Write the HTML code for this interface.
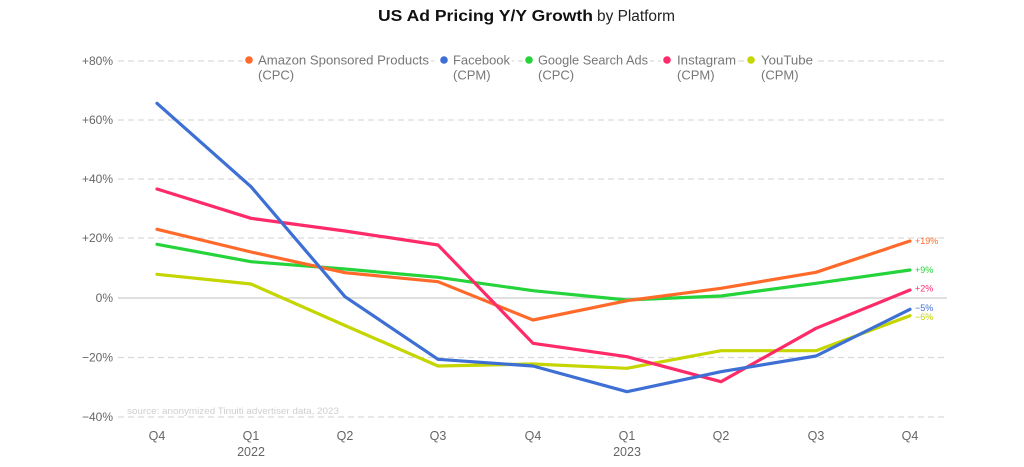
<!DOCTYPE html>
<html><head><meta charset="utf-8"><style>
html,body{margin:0;padding:0;background:#fff;}
svg{display:block;}
text{font-family:"Liberation Sans",sans-serif;}
</style></head><body>
<svg width="1024" height="467" viewBox="0 0 1024 467" xmlns="http://www.w3.org/2000/svg">
<rect width="1024" height="467" fill="#fff"/>
<!-- title -->
<text x="378" y="21" font-size="15.5" fill="#111"><tspan font-weight="bold" textLength="215" lengthAdjust="spacingAndGlyphs">US Ad Pricing Y/Y Growth</tspan><tspan dx="4" fill="#222" textLength="78" lengthAdjust="spacingAndGlyphs">by Platform</tspan></text>
<!-- gridlines -->
<g stroke="#d9d9d9" stroke-width="1.2" stroke-dasharray="6,4" fill="none">
<line x1="118" y1="61" x2="947" y2="61"/>
<line x1="118" y1="120" x2="947" y2="120"/>
<line x1="118" y1="179" x2="947" y2="179"/>
<line x1="118" y1="238" x2="947" y2="238"/>
<line x1="118" y1="357.5" x2="947" y2="357.5"/>
<line x1="118" y1="417" x2="947" y2="417"/>
</g>
<line x1="118" y1="298" x2="947" y2="298" stroke="#d6d6d6" stroke-width="1.4"/>
<!-- y labels -->
<g font-size="12" fill="#666" text-anchor="end">
<text x="113" y="65">+80%</text>
<text x="113" y="124">+60%</text>
<text x="113" y="183">+40%</text>
<text x="113" y="242">+20%</text>
<text x="113" y="302">0%</text>
<text x="113" y="361.5">−20%</text>
<text x="113" y="421">−40%</text>
</g>
<!-- x labels -->
<g font-size="12.5" fill="#666" text-anchor="middle">
<text x="157" y="440">Q4</text>
<text x="251" y="440">Q1</text>
<text x="251" y="456">2022</text>
<text x="345" y="440">Q2</text>
<text x="438" y="440">Q3</text>
<text x="533" y="440">Q4</text>
<text x="627" y="440">Q1</text>
<text x="627" y="456">2023</text>
<text x="721" y="440">Q2</text>
<text x="816" y="440">Q3</text>
<text x="910" y="440">Q4</text>
</g>
<text x="127" y="414" font-size="9" fill="#cfcfcf" textLength="212" lengthAdjust="spacingAndGlyphs">source: anonymized Tinuiti advertiser data, 2023</text>
<!-- legend -->
<g>
<rect x="243" y="50" width="188" height="36" fill="#fff"/>
<rect x="438" y="50" width="74" height="36" fill="#fff"/>
<rect x="523" y="50" width="127" height="36" fill="#fff"/>
<rect x="661" y="50" width="77" height="36" fill="#fff"/>
<rect x="745" y="50" width="70" height="36" fill="#fff"/>
<circle cx="249" cy="60" r="3.8" fill="#ff6a2b"/>
<circle cx="444" cy="60" r="3.8" fill="#3d6fd4"/>
<circle cx="529" cy="60" r="3.8" fill="#25d33a"/>
<circle cx="667" cy="60" r="3.8" fill="#ff2a68"/>
<circle cx="751" cy="60" r="3.8" fill="#c4d500"/>
<g font-size="13" fill="#777">
<text x="258" y="64.5" textLength="171" lengthAdjust="spacingAndGlyphs">Amazon Sponsored Products</text>
<text x="258" y="79.5">(CPC)</text>
<text x="453" y="64.5" textLength="57" lengthAdjust="spacingAndGlyphs">Facebook</text>
<text x="453" y="79.5">(CPM)</text>
<text x="538" y="64.5" textLength="110" lengthAdjust="spacingAndGlyphs">Google Search Ads</text>
<text x="538" y="79.5">(CPC)</text>
<text x="677" y="64.5" textLength="59" lengthAdjust="spacingAndGlyphs">Instagram</text>
<text x="677" y="79.5">(CPM)</text>
<text x="761" y="64.5" textLength="52" lengthAdjust="spacingAndGlyphs">YouTube</text>
<text x="761" y="79.5">(CPM)</text>
</g>
</g>
<!-- series -->
<g fill="none" stroke-width="3.2" stroke-linejoin="round" stroke-linecap="round">
<polyline stroke="#c4d500" points="157,274.3 251,284 345,325.5 438,366 533,364 627,368.3 721,350.7 816,350.7 910,315.7"/>
<polyline stroke="#25d33a" points="157,244.3 251,261.7 345,269 438,277.3 533,290.7 627,300 721,296 816,283.3 910,270"/>
<polyline stroke="#ff6a2b" points="157,229.3 251,252 345,272.7 438,281.7 533,320 627,300.7 721,288.3 816,272.3 910,241"/>
<polyline stroke="#ff2a68" points="157,189 251,218.3 345,231 438,245 533,343.3 627,356.7 721,381.7 816,328.3 910,290"/>
<polyline stroke="#3d6fd4" points="157,103.3 251,186.7 345,296.7 438,359.3 533,366 627,391.7 721,371.7 816,356 910,309.3"/>
</g>
<!-- end labels -->
<g font-size="9">
<text x="915" y="244" fill="#ff6a2b">+19%</text>
<text x="915" y="273" fill="#25d33a">+9%</text>
<text x="915" y="291.5" fill="#ff2a68">+2%</text>
<text x="915" y="311" fill="#3d6fd4">−5%</text>
<text x="915" y="320" fill="#c4d500">−6%</text>
</g>
</svg>
</body></html>
